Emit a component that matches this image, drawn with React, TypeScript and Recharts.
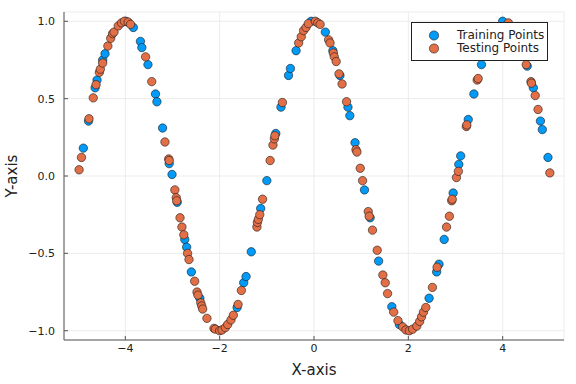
import {
  CartesianGrid,
  Legend,
  Scatter,
  ScatterChart,
  XAxis,
  YAxis,
} from "recharts";

// values
const trainingX = [
  -4.89, -4.78, -4.64, -4.6, -4.48, -4.43, -3.99, -3.83, -3.68, -3.65, -3.52, -3.36,
  -3.33, -3.21, -3.07, -3.01, -2.9, -2.74, -2.7, -2.6, -2.42, -1.63, -1.49, -1.44,
  -1.33, -1.13, -1.0, -0.81, -0.7, -0.54, -0.5, -0.38, -0.06, 0.24, 0.4, 0.55, 0.72,
  0.76, 0.87, 1.07, 1.19, 1.37, 1.65, 1.81, 2.44, 2.6, 2.65, 2.76, 2.95, 3.07, 3.11,
  3.27, 3.39, 3.55, 4.0, 4.52, 4.65, 4.8, 4.84, 4.96,
];
const trainingY = [
  0.18, 0.355, 0.57, 0.62, 0.75, 0.79, 1.0, 0.96, 0.87, 0.83, 0.72, 0.53,
  0.48, 0.31, 0.08, 0.01, -0.17, -0.41, -0.46, -0.62, -0.79, -0.85, -0.69, -0.65,
  -0.49, -0.21, -0.03, 0.275, 0.445, 0.65, 0.695, 0.81, 1.0, 0.93, 0.81, 0.65, 0.445,
  0.39, 0.215, -0.09, -0.27, -0.55, -0.845, -0.96, -0.79, -0.62, -0.57, -0.41, -0.11, 0.075, 0.13,
  0.365, 0.53, 0.72, 1.0, 0.71, 0.57, 0.355, 0.3, 0.12,
];
const testingX = [
  -4.98, -4.93, -4.77, -4.68, -4.62, -4.55, -4.53, -4.48, -4.37, -4.31, -4.27, -4.24,
  -4.15, -4.08, -4.02, -3.94, -3.89, -3.57, -3.44, -3.16, -3.08, -3.07, -2.95, -2.92,
  -2.91, -2.84, -2.8, -2.76, -2.68, -2.65, -2.53, -2.48, -2.46, -2.4, -2.38, -2.36,
  -2.27, -2.12, -2.09, -2.0, -1.95, -1.88, -1.83, -1.76, -1.71, -1.61, -1.54, -1.21,
  -1.2, -1.18, -1.15, -1.09, -0.93, -0.87, -0.84, -0.83, -0.67, -0.325, -0.27, -0.22,
  -0.17, -0.12, 0.03, 0.08, 0.13, 0.31, 0.34, 0.41, 0.43, 0.47, 0.53, 0.595, 0.69,
  0.89, 0.91, 0.98, 1.03, 1.15, 1.17, 1.24, 1.34, 1.46, 1.51, 1.56, 1.69, 1.78, 1.88,
  1.95, 2.02, 2.09, 2.18, 2.24, 2.28, 2.32, 2.37, 2.51, 2.61, 2.81, 2.87, 2.92, 2.93,
  3.02, 3.06, 3.23, 3.24, 3.46, 3.48, 4.12, 4.5, 4.6, 4.61, 4.69, 4.75, 5.0,
];
const testingY = [
  0.04, 0.12, 0.37, 0.505, 0.59, 0.67, 0.69, 0.73, 0.84, 0.89, 0.92, 0.93,
  0.97, 0.99, 1.0, 0.995, 0.98, 0.77, 0.61, 0.22, 0.11, 0.1, -0.09, -0.14,
  -0.16, -0.27, -0.33, -0.38, -0.5, -0.54, -0.68, -0.75, -0.77, -0.82, -0.84, -0.86,
  -0.92, -0.985, -0.99, -1.0, -0.995, -0.98, -0.96, -0.93, -0.9, -0.83, -0.74, -0.33,
  -0.3, -0.28, -0.25, -0.15, 0.1, 0.2, 0.24, 0.26, 0.475, 0.86, 0.9, 0.94,
  0.96, 0.985, 1.0, 0.99, 0.98, 0.88, 0.86, 0.795, 0.77, 0.74, 0.66, 0.595, 0.48,
  0.17, 0.155, 0.05, -0.03, -0.23, -0.26, -0.35, -0.48, -0.64, -0.69, -0.76, -0.88, -0.935, -0.975,
  -0.995, -1.0, -0.99, -0.97, -0.94, -0.91, -0.88, -0.85, -0.72, -0.59, -0.33, -0.26, -0.16, -0.15,
  -0.01, 0.03, 0.32, 0.33, 0.62, 0.63, 0.99, 0.72, 0.61, 0.6, 0.52, 0.43, 0.02,
];
const xTicks = [-4, -2, 0, 2, 4];
const yTicks = [-1, -0.5, 0, 0.5, 1];

const series = [
  { name: "Training Points", color: "#009AF9", xs: trainingX, ys: trainingY },
  { name: "Testing Points", color: "#E36F47", xs: testingX, ys: testingY },
];

const font = "'DejaVu Sans', sans-serif";
const minus = (s: string) => s.replace("-", "\u2212");

const dot = (color: string) => (p: any) => (
  <circle cx={p.cx} cy={p.cy} r={4.2} fill={color} stroke="#1a1a1a" strokeWidth={0.6} />
);

function LegendBox() {
  return (
    <div
      style={{
        width: 135,
        height: 37,
        border: "1px solid #222",
        background: "#fff",
        fontFamily: font,
        fontSize: 12,
        color: "#222",
        position: "relative",
      }}
    >
      {series.map((s, i) => (
        <div
          key={s.name}
          style={{ position: "absolute", left: 0, top: 6 + i * 12.6, height: 13, display: "flex", alignItems: "center" }}
        >
          <svg width={44} height={13}>
            <circle cx={22} cy={6.5} r={4.6} fill={s.color} stroke="#1a1a1a" strokeWidth={0.6} />
          </svg>
          <span style={{ marginLeft: 1, lineHeight: "13px" }}>{s.name}</span>
        </div>
      ))}
    </div>
  );
}

export default function App() {
  return (
    <div style={{ position: "absolute", left: 0, top: 0, width: 576, height: 384, background: "#fff" }}>
      <ScatterChart width={576} height={384} margin={{ top: 12, right: 12, bottom: 0, left: 0 }}>
        <CartesianGrid stroke="#ececec" strokeWidth={1} />
        <XAxis
          type="number"
          dataKey="x"
          domain={[-5.3, 5.3]}
          ticks={xTicks}
          allowDataOverflow
          height={44}
          stroke="#555"
          tickSize={-4}
          tickMargin={8}
          tick={{ fontSize: 11, fill: "#222", fontFamily: font }}
          tickFormatter={(v: number) => minus(String(v))}
          label={{
            content: ({ viewBox }: any) => (
              <text
                x={viewBox.x + viewBox.width / 2}
                y={viewBox.y + 35}
                textAnchor="middle"
                fontSize={15}
                fontFamily={font}
                fill="#222"
              >
                X-axis
              </text>
            ),
          }}
        />
        <YAxis
          type="number"
          dataKey="y"
          domain={[-1.06, 1.06]}
          ticks={yTicks}
          allowDataOverflow
          width={64}
          stroke="#555"
          tickSize={-4}
          tickMargin={13}
          tick={{ fontSize: 11, fill: "#222", fontFamily: font }}
          tickFormatter={(v: number) => minus(v.toFixed(1))}
          label={{
            content: ({ viewBox }: any) => {
              const cx = viewBox.x + 17;
              const cy = viewBox.y + viewBox.height / 2;
              return (
                <text
                  x={cx}
                  y={cy}
                  transform={`rotate(-90 ${cx} ${cy})`}
                  textAnchor="middle"
                  fontSize={15}
                  fontFamily={font}
                  fill="#222"
                >
                  Y-axis
                </text>
              );
            },
          }}
        />
        {series.map((s) => (
          <Scatter
            key={s.name}
            name={s.name}
            data={s.xs.map((x, i) => ({ x, y: s.ys[i] }))}
            fill={s.color}
            shape={dot(s.color)}
            isAnimationActive={false}
          />
        ))}
        <Legend
          layout="vertical"
          align="center"
          verticalAlign="middle"
          wrapperStyle={{ top: 22, left: 411, width: 137, height: 39 }}
          content={() => <LegendBox />}
        />
      </ScatterChart>
    </div>
  );
}
